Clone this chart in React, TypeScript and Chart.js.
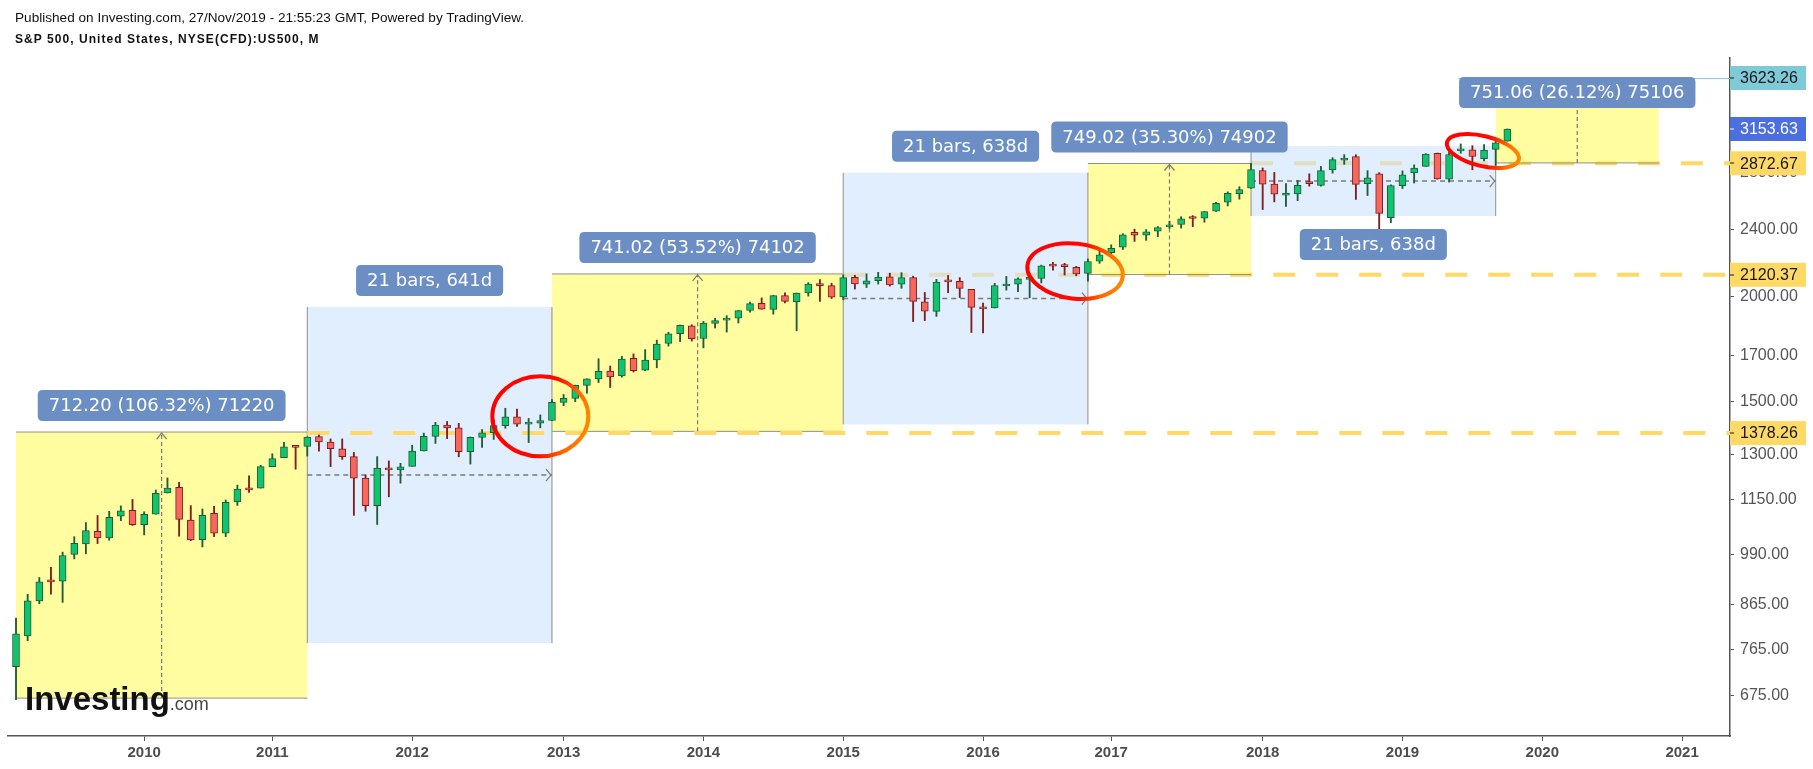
import React, { useEffect, useRef } from 'react';
import { Chart, registerables } from 'chart.js';

Chart.register(...registerables);

// ---------- DATA (S&P 500 monthly OHLC, Mar 2009 .. Nov 2019) ----------
const openP: number[] = [
  729.57, 793.59, 872.74, 923.26, 920.82, 990.22, 1019.52, 1054.91, 1036.18, 1098.89,
  1116.56, 1073.89, 1105.36, 1171.23, 1188.58, 1087.3, 1031.1, 1107.53, 1049.72, 1143.49, 1185.71, 1186.6,
  1257.62, 1289.14, 1328.64, 1329.48, 1365.21, 1345.2, 1320.64, 1292.59, 1219.12, 1131.21, 1251.0, 1246.91,
  1258.86, 1312.45, 1365.9, 1408.47, 1397.86, 1309.87, 1362.33, 1379.32, 1406.54, 1440.9, 1412.2, 1416.18,
  1426.19, 1498.11, 1514.68, 1569.18, 1597.55, 1631.71, 1609.78, 1689.42, 1635.95, 1681.34, 1758.7, 1806.55,
  1845.86, 1782.68, 1857.68, 1873.96, 1884.39, 1923.87, 1962.29, 1929.8, 2004.07, 1971.44, 2018.21, 2065.78,
  2058.9, 1996.67, 2105.23, 2067.63, 2087.38, 2108.64, 2067.0, 2104.49, 1970.09, 1919.65, 2080.76, 2082.93,
  2038.2, 1936.94, 1937.09, 2056.62, 2067.17, 2093.94, 2099.34, 2173.15, 2171.33, 2164.33, 2128.68, 2200.17,
  2251.57, 2285.59, 2380.13, 2362.34, 2388.5, 2415.65, 2431.39, 2477.1, 2474.42, 2521.2, 2583.21, 2645.1,
  2683.73, 2816.45, 2715.22, 2633.45, 2642.96, 2718.7, 2704.95, 2821.17, 2896.96, 2926.29, 2717.58, 2790.5,
  2476.96, 2702.32, 2798.22, 2848.63, 2952.33, 2751.53, 2971.41, 2980.32, 2909.01, 2983.69, 3050.72,
];
const highP: number[] = [
  832.98, 888.7, 930.17, 956.23, 996.68, 1039.47, 1080.15, 1101.36, 1113.69, 1130.38,
  1150.45, 1112.42, 1180.16, 1219.8, 1205.13, 1131.23, 1120.95, 1129.24, 1148.9, 1196.14, 1227.08, 1262.6,
  1302.67, 1344.07, 1332.28, 1364.56, 1370.58, 1356.48, 1356.48, 1307.38, 1229.29, 1292.66, 1277.55, 1269.37,
  1333.47, 1378.04, 1419.15, 1422.38, 1415.32, 1363.46, 1391.74, 1426.68, 1474.51, 1470.96, 1434.27, 1448.0,
  1509.94, 1530.94, 1570.28, 1597.57, 1687.18, 1654.19, 1698.78, 1709.67, 1729.86, 1775.22, 1813.55, 1849.44,
  1850.84, 1867.92, 1883.97, 1897.28, 1924.03, 1968.17, 1991.39, 2005.04, 2019.26, 2018.19, 2075.76, 2093.55,
  2072.36, 2119.59, 2117.52, 2125.92, 2134.72, 2129.87, 2132.82, 2112.66, 2020.86, 2094.32, 2116.48, 2104.27,
  2038.2, 1962.96, 2072.21, 2111.05, 2103.48, 2120.55, 2177.09, 2193.81, 2187.87, 2169.6, 2214.1, 2277.53,
  2300.99, 2371.54, 2400.98, 2398.16, 2418.71, 2453.82, 2484.04, 2490.87, 2519.44, 2582.98, 2657.74, 2694.97,
  2872.87, 2835.96, 2801.9, 2717.49, 2742.24, 2791.47, 2848.03, 2916.5, 2940.91, 2939.86, 2815.15, 2800.18,
  2708.95, 2813.49, 2860.31, 2949.52, 2954.13, 2964.15, 3027.98, 3013.59, 3021.99, 3050.1, 3154.26,
];
const lowP: number[] = [
  666.79, 783.32, 866.1, 888.86, 869.32, 978.51, 991.97, 1020.18, 1029.38, 1085.89,
  1071.59, 1044.5, 1105.36, 1170.69, 1040.78, 1028.33, 1010.91, 1039.7, 1039.7, 1131.87, 1173.0, 1186.6,
  1257.62, 1289.14, 1249.05, 1294.7, 1311.8, 1258.07, 1282.86, 1101.54, 1114.22, 1074.77, 1158.66, 1202.37,
  1258.86, 1312.45, 1340.03, 1357.38, 1291.98, 1266.74, 1325.41, 1354.65, 1396.56, 1403.28, 1343.35, 1398.11,
  1426.19, 1485.01, 1501.48, 1536.03, 1581.28, 1560.33, 1604.57, 1627.47, 1633.41, 1646.47, 1746.2, 1767.99,
  1770.45, 1737.92, 1834.44, 1814.36, 1859.79, 1915.98, 1930.67, 1904.78, 1964.04, 1820.66, 2001.01, 1972.56,
  1988.12, 1980.9, 2039.69, 2048.38, 2067.93, 2056.32, 2044.02, 1867.01, 1871.91, 1893.7, 2019.39, 1993.26,
  1812.29, 1810.1, 1937.09, 2033.8, 2025.91, 1991.68, 2074.02, 2147.58, 2119.12, 2114.72, 2083.79, 2187.44,
  2245.13, 2271.65, 2322.25, 2328.95, 2352.72, 2405.7, 2407.7, 2417.35, 2446.55, 2520.4, 2557.45, 2605.52,
  2682.36, 2532.69, 2585.89, 2553.8, 2594.62, 2698.95, 2698.95, 2796.34, 2864.12, 2603.54, 2631.09, 2346.58,
  2443.96, 2681.83, 2722.27, 2848.63, 2750.52, 2728.81, 2952.22, 2822.12, 2891.85, 2855.94, 3050.72,
];
const closeP: number[] = [
  797.87, 872.81, 919.14, 919.32, 987.48, 1020.62, 1057.08, 1036.19, 1095.63, 1115.1,
  1073.87, 1104.49, 1169.43, 1186.69, 1089.41, 1030.71, 1101.6, 1049.33, 1141.2, 1183.26, 1180.55, 1257.64,
  1286.12, 1327.22, 1325.83, 1363.61, 1345.2, 1320.64, 1292.28, 1218.89, 1131.42, 1253.3, 1246.96, 1257.6,
  1312.41, 1365.68, 1408.47, 1397.91, 1310.33, 1362.16, 1379.32, 1406.58, 1440.67, 1412.16, 1416.18, 1426.19,
  1498.11, 1514.68, 1569.19, 1597.57, 1630.74, 1606.28, 1685.73, 1632.97, 1681.55, 1756.54, 1805.81, 1848.36,
  1782.59, 1859.45, 1872.34, 1883.95, 1923.57, 1960.23, 1930.67, 2003.37, 1972.29, 2018.05, 2067.56, 2058.9,
  1994.99, 2104.5, 2067.89, 2085.51, 2107.39, 2063.11, 2103.84, 1972.18, 1920.03, 2079.36, 2080.41, 2043.94,
  1940.24, 1932.23, 2059.74, 2065.3, 2096.95, 2098.86, 2173.6, 2170.95, 2168.27, 2126.15, 2198.81, 2238.83,
  2278.87, 2363.64, 2362.72, 2384.2, 2411.8, 2423.41, 2470.3, 2471.65, 2519.36, 2575.26, 2647.58, 2673.61,
  2823.81, 2713.83, 2640.87, 2648.05, 2705.27, 2718.37, 2816.29, 2901.52, 2913.98, 2711.74, 2760.17, 2506.85,
  2704.1, 2784.49, 2834.4, 2945.83, 2752.06, 2941.76, 2980.38, 2926.46, 2976.74, 3037.56, 3153.63,
];
// month index 0 = 2009-03
const months: string[] = openP.map((_, i) => {
  const m = 2 + i;
  return `${2009 + Math.floor(m / 12)}-${String((m % 12) + 1).padStart(2, '0')}`;
});

const yearLabels: string[] = ['2010', '2011', '2012', '2013', '2014', '2015', '2016', '2017', '2018', '2019', '2020', '2021'];
const yearTickBars: number[] = [11, 22, 34, 47, 59, 71, 83, 94, 107, 119, 131, 143];
const yTickValues: number[] = [675, 765, 865, 990, 1150, 1300, 1500, 1700, 2000, 2400, 2800];

const levelValues: number[] = [1378.26, 2120.37, 2872.67];
const levelStartBars: number[] = [25, 71, 106];

const rangeFromBars: number[] = [0, 46, 92, 127];
const rangeToBars: number[] = [25, 71, 106, 141];
const rangeLows: number[] = [669.87, 1384.6, 2121.9, 2875.4];
const rangeHighs: number[] = [1382.07, 2125.6, 2870.9, 3626.5];
const rangeTexts: string[] = ['712.20 (106.32%) 71220', '741.02 (53.52%) 74102', '749.02 (35.30%) 74902', '751.06 (26.12%) 75106'];

const dateFromBars: number[] = [25, 71, 106];
const dateToBars: number[] = [46, 92, 127];
const dateLows: number[] = [778, 1411, 2488];
const dateHighs: number[] = [1942.6, 2800, 3011];
const dateTexts: string[] = ['21 bars, 641d', '21 bars, 638d', '21 bars, 638d'];
const dateLabelBelow: boolean[] = [false, false, true];

const ellipseBars: number[] = [45.0, 90.9, 125.9];
const ellipseValues: number[] = [1442.5, 2142, 2970];

const tagValues: number[] = [3623.26, 3153.63, 2872.67, 2120.37, 1378.26];
const targetLineValue = 3623.26;
const targetLineStartBar = 123.8;

// ---------- STYLE ----------
const UP = '#10c46f';
const UP_B = '#1f5c39';
const DOWN = '#f7675d';
const DOWN_B = '#7d1f1f';
const LEVEL_COLOR = '#ffd866';
const LABEL_BG = '#6b8ec5';
const TAG_BG = ['#7ecbd6', '#4b6fe0', '#ffd966', '#ffd966', '#ffd966'];
const TAG_FG = ['#131722', '#ffffff', '#131722', '#131722', '#131722'];
const ELLIPSE_STYLE = [
  { rx: 48, ry: 40, rot: 0 },
  { rx: 48, ry: 27.5, rot: 0.12 },
  { rx: 37, ry: 15, rot: 0.24 },
];
const X_MIN = -0.687;
const X_MAX = 147.11;
const Y_MIN = 604.2;
const Y_MAX = 3826;

function roundRect(ctx: CanvasRenderingContext2D, x: number, y: number, w: number, h: number, r: number) {
  ctx.beginPath();
  ctx.moveTo(x + r, y);
  ctx.lineTo(x + w - r, y);
  ctx.quadraticCurveTo(x + w, y, x + w, y + r);
  ctx.lineTo(x + w, y + h - r);
  ctx.quadraticCurveTo(x + w, y + h, x + w - r, y + h);
  ctx.lineTo(x + r, y + h);
  ctx.quadraticCurveTo(x, y + h, x, y + h - r);
  ctx.lineTo(x, y + r);
  ctx.quadraticCurveTo(x, y, x + r, y);
  ctx.closePath();
}

function drawLevel(ctx: CanvasRenderingContext2D, chart: any, i: number) {
  const { x, y } = chart.scales;
  const ca = chart.chartArea;
  const yy = y.getPixelForValue(levelValues[i]);
  const x0 = x.getPixelForValue(levelStartBars[i]);
  ctx.save();
  ctx.strokeStyle = LEVEL_COLOR;
  ctx.lineWidth = 4;
  ctx.setLineDash([22, 21]);
  ctx.beginPath();
  ctx.moveTo(x0, yy);
  ctx.lineTo(ca.right, yy);
  ctx.stroke();
  ctx.restore();
}

function drawLabel(ctx: CanvasRenderingContext2D, text: string, cx: number, top: number) {
  ctx.save();
  ctx.font = '18px "DejaVu Sans", Verdana, sans-serif';
  const w = ctx.measureText(text).width + 22;
  const h = 31;
  ctx.fillStyle = LABEL_BG;
  roundRect(ctx, cx - w / 2, top, w, h, 5);
  ctx.fill();
  ctx.fillStyle = '#ffffff';
  ctx.textAlign = 'center';
  ctx.textBaseline = 'middle';
  ctx.fillText(text, cx, top + h / 2 + 1);
  ctx.restore();
}

const overlayPlugin = {
  id: 'overlay',
  beforeDatasetsDraw(chart: any) {
    const ctx: CanvasRenderingContext2D = chart.ctx;
    const { x, y } = chart.scales;
    const ca = chart.chartArea;
    ctx.save();
    ctx.beginPath();
    ctx.rect(ca.left, ca.top, ca.right - ca.left, ca.bottom - ca.top);
    ctx.clip();

    drawLevel(ctx, chart, 1);
    drawLevel(ctx, chart, 2);

    // price ranges (yellow)
    rangeFromBars.forEach((fb, i) => {
      const x1 = x.getPixelForValue(fb);
      const x2 = x.getPixelForValue(rangeToBars[i]);
      const yT = y.getPixelForValue(rangeHighs[i]);
      const yB = y.getPixelForValue(rangeLows[i]);
      ctx.fillStyle = 'rgba(255,252,100,0.62)';
      ctx.fillRect(x1, yT, x2 - x1, yB - yT);
      ctx.strokeStyle = '#8f8f8f';
      ctx.lineWidth = 1;
      ctx.beginPath();
      ctx.moveTo(x1, yT); ctx.lineTo(x2, yT);
      ctx.moveTo(x1, yB); ctx.lineTo(x2, yB);
      ctx.stroke();
    });

    // date ranges (blue)
    dateFromBars.forEach((fb, i) => {
      const x1 = x.getPixelForValue(fb);
      const x2 = x.getPixelForValue(dateToBars[i]);
      const yT = y.getPixelForValue(dateHighs[i]);
      const yB = y.getPixelForValue(dateLows[i]);
      ctx.fillStyle = 'rgba(205,227,253,0.6)';
      ctx.fillRect(x1, yT, x2 - x1, yB - yT);
      ctx.strokeStyle = '#8f8f8f';
      ctx.lineWidth = 1;
      ctx.beginPath();
      ctx.moveTo(x1, yT); ctx.lineTo(x1, yB);
      ctx.moveTo(x2, yT); ctx.lineTo(x2, yB);
      ctx.stroke();
    });

    drawLevel(ctx, chart, 0);

    // arrows
    ctx.strokeStyle = '#7a7a7a';
    ctx.lineWidth = 1.2;
    rangeFromBars.forEach((fb, i) => {
      const xm = x.getPixelForValue((fb + rangeToBars[i]) / 2);
      const yT = y.getPixelForValue(rangeHighs[i]);
      const yB = y.getPixelForValue(rangeLows[i]);
      ctx.setLineDash([4, 3]);
      ctx.beginPath();
      ctx.moveTo(xm, yB); ctx.lineTo(xm, yT);
      ctx.stroke();
      ctx.setLineDash([]);
      ctx.beginPath();
      ctx.moveTo(xm - 5, yT + 7); ctx.lineTo(xm, yT + 1); ctx.lineTo(xm + 5, yT + 7);
      ctx.stroke();
    });
    dateFromBars.forEach((fb, i) => {
      const x1 = x.getPixelForValue(fb);
      const x2 = x.getPixelForValue(dateToBars[i]);
      const ym = (y.getPixelForValue(dateHighs[i]) + y.getPixelForValue(dateLows[i])) / 2;
      ctx.setLineDash([5, 4]);
      ctx.lineWidth = 1.5;
      ctx.beginPath();
      ctx.moveTo(x1, ym); ctx.lineTo(x2, ym);
      ctx.stroke();
      ctx.setLineDash([]);
      ctx.lineWidth = 1.2;
      ctx.beginPath();
      ctx.moveTo(x2 - 6, ym - 6); ctx.lineTo(x2 - 1, ym); ctx.lineTo(x2 - 6, ym + 6);
      ctx.stroke();
    });
    ctx.restore();
  },
  afterDatasetsDraw(chart: any) {
    const ctx: CanvasRenderingContext2D = chart.ctx;
    const { x, y } = chart.scales;
    const ca = chart.chartArea;
    ctx.save();

    // target line
    ctx.strokeStyle = '#86cddc';
    ctx.lineWidth = 1;
    const ty = Math.round(y.getPixelForValue(targetLineValue)) + 0.5;
    ctx.beginPath();
    ctx.moveTo(x.getPixelForValue(targetLineStartBar), ty);
    ctx.lineTo(ca.right, ty);
    ctx.stroke();

    // ellipses
    ellipseBars.forEach((b, i) => {
      const cx = x.getPixelForValue(b);
      const cy = y.getPixelForValue(ellipseValues[i]);
      const st = ELLIPSE_STYLE[i];
      const g = ctx.createLinearGradient(cx - st.rx, cy - st.ry * 0.3, cx + st.rx, cy + st.ry * 0.3);
      g.addColorStop(0, '#ff0000');
      g.addColorStop(0.58, '#ff0a00');
      g.addColorStop(0.82, '#ff6a00');
      g.addColorStop(1, '#ff8a00');
      ctx.strokeStyle = g;
      ctx.lineWidth = 4;
      ctx.beginPath();
      ctx.ellipse(cx, cy, st.rx, st.ry, st.rot, 0, Math.PI * 2);
      ctx.stroke();
    });

    // labels
    rangeFromBars.forEach((fb, i) => {
      const cx = (x.getPixelForValue(fb) + x.getPixelForValue(rangeToBars[i])) / 2;
      const yT = y.getPixelForValue(rangeHighs[i]);
      let top = yT - 11 - 31;
      if (top < ca.top + 19) top = ca.top + 19;
      drawLabel(ctx, rangeTexts[i], cx, top);
    });
    dateFromBars.forEach((fb, i) => {
      const cx = (x.getPixelForValue(fb) + x.getPixelForValue(dateToBars[i])) / 2;
      const top = dateLabelBelow[i]
        ? y.getPixelForValue(dateLows[i]) + 13
        : y.getPixelForValue(dateHighs[i]) - 11 - 31;
      drawLabel(ctx, dateTexts[i], cx, top);
    });

    // watermark
    ctx.fillStyle = '#111111';
    ctx.font = 'bold 33px "Liberation Sans", Arial, sans-serif';
    ctx.textBaseline = 'alphabetic';
    ctx.textAlign = 'left';
    ctx.fillText('Investing', 25, 710);
    const w = ctx.measureText('Investing').width;
    ctx.fillStyle = '#444444';
    ctx.font = '18px "Liberation Sans", Arial, sans-serif';
    ctx.fillText('.com', 25 + w, 710);
    ctx.restore();
  },
  afterDraw(chart: any) {
    const ctx: CanvasRenderingContext2D = chart.ctx;
    const { y } = chart.scales;
    const ca = chart.chartArea;
    ctx.save();
    ctx.font = '16px "Liberation Sans", Arial, sans-serif';
    ctx.textBaseline = 'middle';
    ctx.textAlign = 'left';
    tagValues.forEach((v, i) => {
      const yy = y.getPixelForValue(v);
      ctx.fillStyle = TAG_BG[i];
      ctx.fillRect(ca.right, yy - 12, 76, 24);
      ctx.fillStyle = TAG_FG[i];
      ctx.fillRect(ca.right, Math.round(yy) - 0.5, 4, 1);
      ctx.fillText(v.toFixed(2), ca.right + 10, yy + 1);
    });
    ctx.restore();
  },
};

export default function App() {
  const ref = useRef<HTMLCanvasElement>(null);
  useEffect(() => {
    const isUp = closeP.map((c, i) => c >= openP[i]);
    const bodyData = months.map((_, i) => ({ x: i, y: [openP[i], closeP[i]] }));
    const wickData = months.map((_, i) => ({ x: i, y: [lowP[i], highP[i]] }));
    const chart = new Chart(ref.current as HTMLCanvasElement, {
      type: 'bar',
      data: {
        datasets: [
          {
            label: 'body',
            data: bodyData as any,
            backgroundColor: isUp.map((u) => (u ? UP : DOWN)),
            borderColor: isUp.map((u) => (u ? UP_B : DOWN_B)),
            borderWidth: 1,
            borderSkipped: false,
            barThickness: 7,
            minBarLength: 2,
            grouped: false,
            order: 0,
          } as any,
          {
            label: 'wick',
            data: wickData as any,
            backgroundColor: isUp.map((u) => (u ? UP_B : DOWN_B)),
            borderWidth: 0,
            barThickness: 1.2,
            grouped: false,
            order: 1,
          } as any,
        ],
      },
      options: {
        responsive: false,
        animation: false,
        devicePixelRatio: 1,
        layout: { padding: { left: 8, top: 58, right: 0, bottom: 0 } },
        plugins: { legend: { display: false }, tooltip: { enabled: false }, title: { display: false } },
        scales: {
          x: {
            type: 'linear',
            min: X_MIN,
            max: X_MAX,
            offset: false,
            grid: { display: true, drawOnChartArea: false, drawTicks: true, tickLength: 5, color: '#555', offset: false },
            border: { display: true, color: '#555', width: 1.5 },
            ticks: {
              autoSkip: false,
              maxRotation: 0,
              minRotation: 0,
              padding: 3,
              color: '#4d4d4d',
              font: { family: '"Liberation Sans", Arial, sans-serif', size: 15, weight: 'bold' },
              callback: (_v: any, i: number) => yearLabels[i],
            },
            afterBuildTicks: (s: any) => {
              s.ticks = yearTickBars.map((v) => ({ value: v }));
            },
            afterFit: (s: any) => {
              s.height = 33;
            },
          } as any,
          y: {
            type: 'logarithmic',
            position: 'right',
            min: Y_MIN,
            max: Y_MAX,
            grid: { display: true, drawOnChartArea: false, drawTicks: true, tickLength: 4, color: '#555' },
            border: { display: true, color: '#555', width: 1.5 },
            ticks: {
              autoSkip: false,
              padding: 6,
              color: '#555',
              font: { family: '"Liberation Sans", Arial, sans-serif', size: 16 },
              callback: (v: any) => Number(v).toFixed(2),
            },
            afterBuildTicks: (s: any) => {
              s.ticks = yTickValues.map((v) => ({ value: v }));
            },
            afterFit: (s: any) => {
              s.width = 83;
            },
          } as any,
        },
      },
      plugins: [overlayPlugin as any],
    });
    return () => chart.destroy();
  }, []);

  return (
    <div style={{ position: 'fixed', left: 0, top: 0, width: 1813, height: 769, background: '#fff', overflow: 'hidden' }}>
      <canvas ref={ref} width={1813} height={769} style={{ position: 'absolute', left: 0, top: 0, width: 1813, height: 769 }} />
      <div
        style={{
          position: 'absolute', left: 15, top: 10, font: '13.6px "Liberation Sans", Arial, sans-serif',
          lineHeight: '15px', color: '#111', whiteSpace: 'nowrap',
        }}
      >
        Published on Investing.com, 27/Nov/2019 - 21:55:23 GMT, Powered by TradingView.
      </div>
      <div
        style={{
          position: 'absolute', left: 15, top: 32, font: 'bold 12px "Liberation Sans", Arial, sans-serif',
          lineHeight: '14px', letterSpacing: '1.05px', color: '#111', whiteSpace: 'nowrap',
        }}
      >
        S&amp;P 500, United States, NYSE(CFD):US500, M
      </div>
    </div>
  );
}
